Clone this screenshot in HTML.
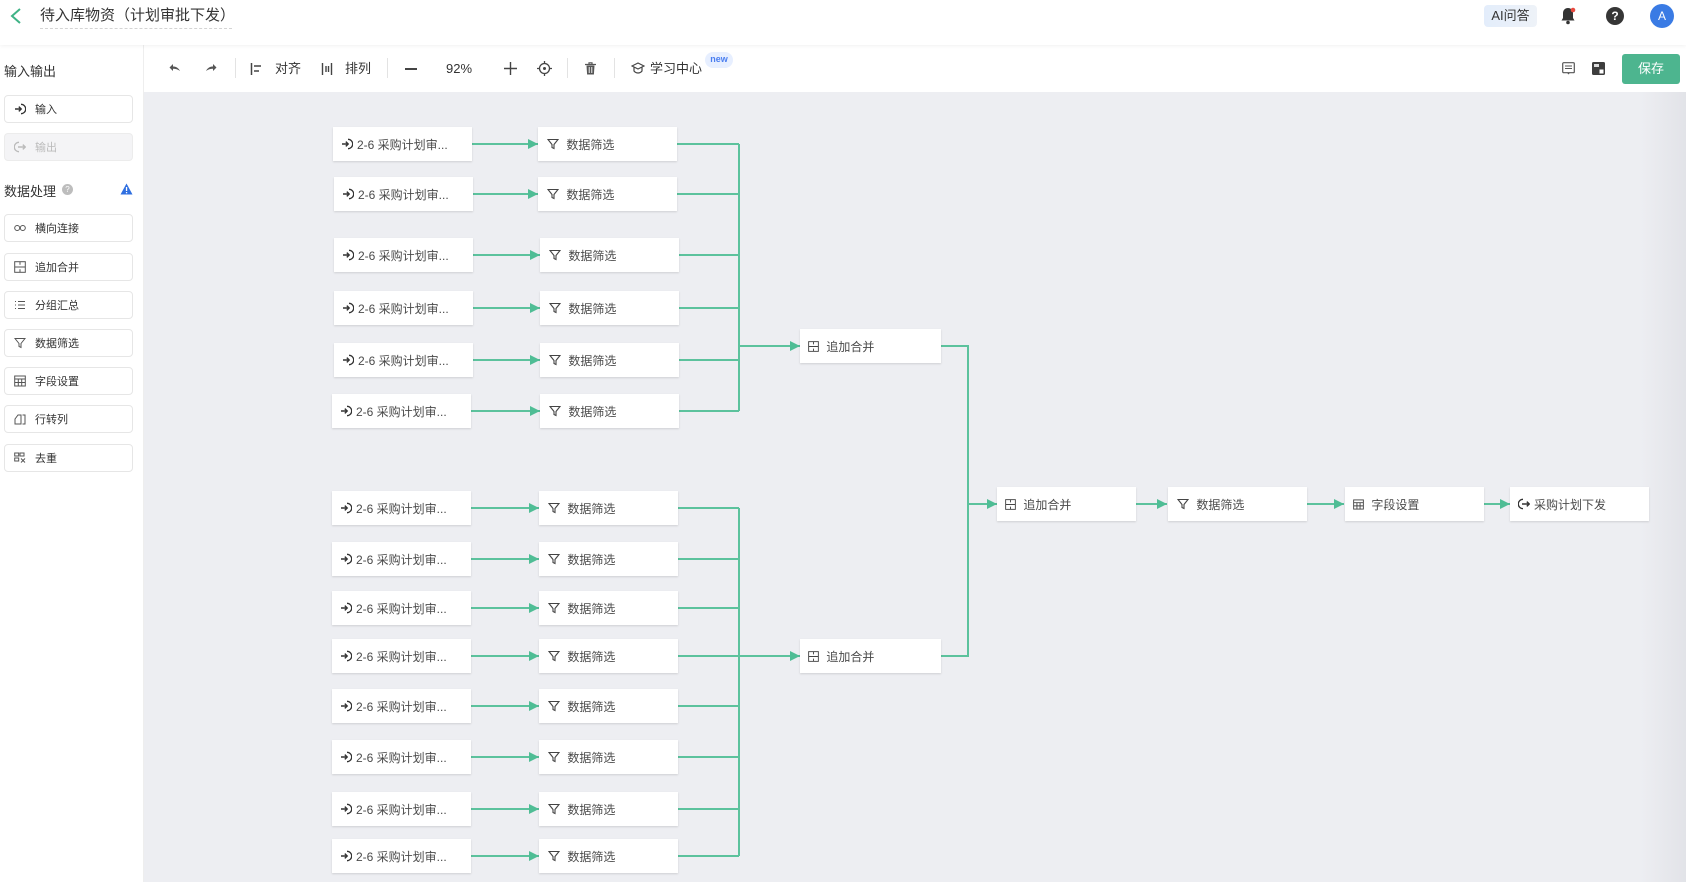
<!DOCTYPE html>
<html><head><meta charset="utf-8">
<style>
*{box-sizing:border-box;margin:0;padding:0}
body{width:1686px;height:882px;overflow:hidden;background:#edeef2;font-family:"Liberation Sans","Noto Sans CJK SC",sans-serif;position:relative;color:#333}
.abs{position:absolute;white-space:nowrap}
#top{left:0;top:0;width:1686px;height:45px;background:#fff;box-shadow:0 1px 4px rgba(0,0,0,.06);z-index:5}
#side{left:0;top:45px;width:144px;height:837px;background:#fff;border-right:1px solid #eee;z-index:4}
#tool{left:144px;top:45px;width:1542px;height:47px;background:#fff;z-index:3}
.si{position:absolute;left:4px;width:129px;height:28px;border:1px solid #e6e6e6;border-radius:4px;font-size:11px;color:#333;display:flex;align-items:center;padding-left:9px;background:#fff;white-space:nowrap}
.si svg{margin-right:9px}
.n{position:absolute;width:139px;height:34px;background:#fff;box-shadow:0 1px 2px rgba(0,0,0,.13);font-size:12px;color:#4a4a4a;display:flex;align-items:center;padding-left:8px;z-index:2;white-space:nowrap}
.n svg{margin-right:4px;flex:none}
.tb{position:absolute;top:60px;font-size:13px;color:#333;line-height:18px;white-space:nowrap}
.dv{position:absolute;top:58px;width:1px;height:20px;background:#e3e3e3}
</style></head><body>

<div id="top" class="abs">
  <svg class="abs" style="left:9px;top:7px" width="14" height="18" viewBox="0 0 14 18"><path d="M11 2 3 9l8 7" stroke="#3fb386" stroke-width="2" fill="none"/></svg>
  <div class="abs" style="left:40px;top:6px;font-size:15px;color:#333;line-height:20px;border-bottom:1px dashed #d4d4d4;padding-bottom:2px;width:192px">待入库物资（计划审批下发）</div>
  <div class="abs" style="left:1484px;top:5px;width:53px;height:22px;border-radius:4px;background:linear-gradient(90deg,#e3edfb,#eef2f8);font-size:13px;line-height:22px;text-align:center;color:#333">AI问答</div>
  <svg class="abs" style="left:1560px;top:7px" width="16" height="18" viewBox="0 0 16 18"><path d="M8 1c-3 0-5 2.2-5 5.2V11L1.5 13.5h13L13 11V6.2C13 3.2 11 1 8 1z" fill="#333"/><circle cx="8" cy="15.5" r="1.8" fill="#333"/><circle cx="13" cy="3" r="2.3" fill="#e84a3f"/></svg>
  <div class="abs" style="left:1606px;top:7px;width:18px;height:18px;border-radius:50%;background:#363636;color:#fff;font-size:12px;font-weight:bold;text-align:center;line-height:18px">?</div>
  <div class="abs" style="left:1650px;top:4px;width:24px;height:24px;border-radius:50%;background:#3a7be4;color:#fff;font-size:12px;text-align:center;line-height:24px">A</div>
</div>

<div id="side" class="abs">
  <div class="abs" style="left:4px;top:16px;font-size:13px;color:#333">输入输出</div>
  <div class="si" style="top:50px"><svg width="12" height="12" viewBox="0 0 12 12"><path d="M1 6h6M4.8 3.6 7.2 6 4.8 8.4" stroke="#333" stroke-width="1.4" fill="none"/><path d="M7 1.3a4.7 4.7 0 0 1 0 9.4" stroke="#333" stroke-width="1.3" fill="none"/></svg>输入</div>
  <div class="si" style="top:88px;background:#f4f4f6;color:#bbb;border-color:#ececec"><svg width="12" height="12" viewBox="0 0 12 12"><path d="M5 1.3a4.7 4.7 0 0 0 0 9.4" stroke="#bbb" stroke-width="1.3" fill="none"/><path d="M4 6h7M8.8 3.6 11.2 6 8.8 8.4" stroke="#bbb" stroke-width="1.4" fill="none"/></svg>输出</div>
  <div class="abs" style="left:4px;top:136px;font-size:13px;color:#333">数据处理</div>
  <div class="abs" style="left:62px;top:139px;width:11px;height:11px;border-radius:50%;background:#bdbdbd;color:#fff;font-size:8px;text-align:center;line-height:11px">?</div>
  <svg class="abs" style="left:120px;top:138px" width="13" height="12" viewBox="0 0 13 12"><path d="M6.5 .5 12.5 11.5H.5z" fill="#2f6fe0"/><rect x="5.9" y="4" width="1.3" height="4" fill="#fff"/><rect x="5.9" y="9" width="1.3" height="1.3" fill="#fff"/></svg>
  <div class="si" style="top:169px"><svg width="12" height="10" viewBox="0 0 12 10"><rect x=".7" y="2.5" width="5" height="5" rx="2.5" stroke="#555" fill="none"/><rect x="6.3" y="2.5" width="5" height="5" rx="2.5" stroke="#555" fill="none"/></svg>横向连接</div>
  <div class="si" style="top:208px"><svg width="12" height="12" viewBox="0 0 12 12"><rect x=".7" y=".7" width="10.6" height="10.6" stroke="#555" fill="none"/><path d="M.7 6h10.6M6 .7v3M6 8.3v3" stroke="#555"/></svg>追加合并</div>
  <div class="si" style="top:246px"><svg width="12" height="10" viewBox="0 0 12 10"><path d="M1 1.5h1M4 1.5h7M1 5h1M4 5h7M1 8.5h1M4 8.5h7" stroke="#555"/></svg>分组汇总</div>
  <div class="si" style="top:284px"><svg width="12" height="12" viewBox="0 0 12 12"><path d="M1 1.5h10L7 6.5v4l-2-1v-3z" stroke="#555" fill="none"/></svg>数据筛选</div>
  <div class="si" style="top:322px"><svg width="12" height="12" viewBox="0 0 12 12"><rect x=".7" y="1" width="10.6" height="10" stroke="#555" fill="none"/><path d="M.7 4h10.6M.7 7.5h10.6M4.3 4v7M7.7 4v7" stroke="#555"/></svg>字段设置</div>
  <div class="si" style="top:360px"><svg width="12" height="12" viewBox="0 0 12 12"><path d="M1 11V6l3-4h3v9zM8.5 2h2.5v9H8.5" stroke="#555" fill="none"/></svg>行转列</div>
  <div class="si" style="top:399px"><svg width="12" height="12" viewBox="0 0 12 12"><rect x=".7" y="1" width="4" height="3" stroke="#555" fill="none"/><rect x="6" y="1" width="4" height="3" stroke="#555" fill="none"/><rect x=".7" y="6" width="4" height="3" stroke="#555" fill="none"/><path d="M7 6.5l4 4M11 6.5l-4 4" stroke="#555"/></svg>去重</div>
</div>

<div id="tool" class="abs"></div>
<div class="abs" style="left:0;top:0;width:1686px;height:92px;z-index:6">
  <svg class="abs" style="left:169px;top:63px" width="12" height="10" viewBox="0 0 12 10"><path d="M11 8C9 4 6 3.5 4 3.5V1L.5 4.5 4 8V5.8c2.5 0 5 .7 7 2.2z" fill="#555"/></svg>
  <svg class="abs" style="left:205px;top:63px" width="12" height="10" viewBox="0 0 12 10"><path d="M1 8C3 4 6 3.5 8 3.5V1l3.5 3.5L8 8V5.8c-2.5 0-5 .7-7 2.2z" fill="#555"/></svg>
  <div class="dv" style="left:235px"></div>
  <svg class="abs" style="left:250px;top:63px" width="12" height="12" viewBox="0 0 12 12"><path d="M1.5 0v12M4 3h7M4 8h5" stroke="#444" stroke-width="1.5"/></svg>
  <div class="tb" style="left:275px">对齐</div>
  <svg class="abs" style="left:321px;top:63px" width="12" height="12" viewBox="0 0 12 12"><path d="M1.5 0v12M10.5 0v12M5 3v6M7.5 3v6" stroke="#444" stroke-width="1.4"/></svg>
  <div class="tb" style="left:345px">排列</div>
  <div class="dv" style="left:387px"></div>
  <div class="abs" style="left:405px;top:68px;width:12px;height:1.5px;background:#444"></div>
  <div class="tb" style="left:446px">92%</div>
  <svg class="abs" style="left:504px;top:62px" width="13" height="13" viewBox="0 0 13 13"><path d="M6.5 0v13M0 6.5h13" stroke="#444" stroke-width="1.4"/></svg>
  <svg class="abs" style="left:537px;top:61px" width="15" height="15" viewBox="0 0 15 15"><circle cx="7.5" cy="7.5" r="5" stroke="#444" stroke-width="1.3" fill="none"/><circle cx="7.5" cy="7.5" r="1.5" fill="#444"/><path d="M7.5 0v2.5M7.5 12.5V15M0 7.5h2.5M12.5 7.5H15" stroke="#444" stroke-width="1.3"/></svg>
  <div class="dv" style="left:567px"></div>
  <svg class="abs" style="left:585px;top:62px" width="11" height="13" viewBox="0 0 11 13"><path d="M0 2.5h11M4 2.5V.8h3v1.7" stroke="#555" stroke-width="1.2" fill="none"/><path d="M1.5 3.5h8l-.6 9h-6.8z" fill="#555"/><path d="M4.2 5v6M6.8 5v6" stroke="#fff" stroke-width=".9"/></svg>
  <div class="dv" style="left:614px"></div>
  <svg class="abs" style="left:631px;top:62px" width="14" height="13" viewBox="0 0 14 13"><path d="M7 1 13 4 7 7 1 4z" stroke="#444" stroke-width="1.2" fill="none"/><path d="M3 5.5v3.5c1 1.3 2.5 2 4 2s3-.7 4-2V5.5" stroke="#444" stroke-width="1.2" fill="none"/></svg>
  <div class="tb" style="left:650px">学习中心</div>
  <div class="abs" style="left:705px;top:52px;width:28px;height:16px;border-radius:8px;background:#e7efff;color:#4a7ef0;font-size:9px;text-align:center;line-height:15px;font-weight:bold">new</div>
  <svg class="abs" style="left:1562px;top:62px" width="13" height="13" viewBox="0 0 13 13"><rect x=".7" y=".7" width="11.6" height="10" rx="1" stroke="#555" fill="none" stroke-width="1.2"/><path d="M3 4h7M3 6.5h7" stroke="#555"/><path d="M5 10.7 6.5 12.5 8 10.7" fill="#555"/></svg>
  <svg class="abs" style="left:1592px;top:62px" width="14" height="14" viewBox="0 0 14 14"><rect x="0" y="0" width="13" height="13" rx="1.5" fill="#3d3d3d"/><rect x="2" y="2" width="5" height="3" fill="#ddd"/><rect x="7" y="7" width="5" height="5" fill="#fff" stroke="#3d3d3d"/></svg>
  <div class="abs" style="left:1622px;top:54px;width:58px;height:30px;border-radius:3px;background:#4db58f;color:#fff;font-size:13px;text-align:center;line-height:30px">保存</div>
</div>

<div class="abs" style="left:1640px;top:92px;width:46px;height:790px;background:linear-gradient(90deg,rgba(225,226,231,0),#e2e3e8)"></div>

<svg class="abs" style="left:0;top:0;z-index:1" width="1686" height="882" viewBox="0 0 1686 882">
<defs><marker id="a" markerWidth="10" markerHeight="10" refX="10" refY="5" orient="auto" markerUnits="userSpaceOnUse"><path d="M0 0 10 5 0 10z" fill="#4fbd95"/></marker></defs>
<g stroke="#5cc29d" stroke-width="2" fill="none">
<path d="M472 144H538" marker-end="url(#a)"/>
<path d="M473 194H538" marker-end="url(#a)"/>
<path d="M473 255H540" marker-end="url(#a)"/>
<path d="M473 308H540" marker-end="url(#a)"/>
<path d="M473 360H540" marker-end="url(#a)"/>
<path d="M471 411H540" marker-end="url(#a)"/>
<path d="M471 508H539" marker-end="url(#a)"/>
<path d="M471 559H539" marker-end="url(#a)"/>
<path d="M471 608H539" marker-end="url(#a)"/>
<path d="M471 656H539" marker-end="url(#a)"/>
<path d="M471 706H539" marker-end="url(#a)"/>
<path d="M471 757H539" marker-end="url(#a)"/>
<path d="M471 809H539" marker-end="url(#a)"/>
<path d="M471 856H539" marker-end="url(#a)"/>
<path d="M677 144H739M677 194H739M679 255H739M679 308H739M679 360H739M679 411H739M739 144V411"/>
<path d="M739 346H800" marker-end="url(#a)"/>
<path d="M678 508H739M678 559H739M678 608H739M678 656H739M678 706H739M678 757H739M678 809H739M678 856H739M739 508V856"/>
<path d="M739 656H800" marker-end="url(#a)"/>
<path d="M941 346H968V656H941"/>
<path d="M968 504H997" marker-end="url(#a)"/>
<path d="M1136 504H1167" marker-end="url(#a)"/>
<path d="M1307 504H1344" marker-end="url(#a)"/>
<path d="M1484 504H1510" marker-end="url(#a)"/>
</g>
</svg>

<!-- input nodes -->
<div class="n" style="left:333px;top:127px"><svg width="12" height="12" viewBox="0 0 12 12"><path d="M1 6h6M4.8 3.6 7.2 6 4.8 8.4" stroke="#333" stroke-width="1.4" fill="none"/><path d="M7 1.3a4.7 4.7 0 0 1 0 9.4" stroke="#333" stroke-width="1.3" fill="none"/></svg>2-6 采购计划审...</div>
<div class="n" style="left:334px;top:177px"><svg width="12" height="12" viewBox="0 0 12 12"><path d="M1 6h6M4.8 3.6 7.2 6 4.8 8.4" stroke="#333" stroke-width="1.4" fill="none"/><path d="M7 1.3a4.7 4.7 0 0 1 0 9.4" stroke="#333" stroke-width="1.3" fill="none"/></svg>2-6 采购计划审...</div>
<div class="n" style="left:334px;top:238px"><svg width="12" height="12" viewBox="0 0 12 12"><path d="M1 6h6M4.8 3.6 7.2 6 4.8 8.4" stroke="#333" stroke-width="1.4" fill="none"/><path d="M7 1.3a4.7 4.7 0 0 1 0 9.4" stroke="#333" stroke-width="1.3" fill="none"/></svg>2-6 采购计划审...</div>
<div class="n" style="left:334px;top:291px"><svg width="12" height="12" viewBox="0 0 12 12"><path d="M1 6h6M4.8 3.6 7.2 6 4.8 8.4" stroke="#333" stroke-width="1.4" fill="none"/><path d="M7 1.3a4.7 4.7 0 0 1 0 9.4" stroke="#333" stroke-width="1.3" fill="none"/></svg>2-6 采购计划审...</div>
<div class="n" style="left:334px;top:343px"><svg width="12" height="12" viewBox="0 0 12 12"><path d="M1 6h6M4.8 3.6 7.2 6 4.8 8.4" stroke="#333" stroke-width="1.4" fill="none"/><path d="M7 1.3a4.7 4.7 0 0 1 0 9.4" stroke="#333" stroke-width="1.3" fill="none"/></svg>2-6 采购计划审...</div>
<div class="n" style="left:332px;top:394px"><svg width="12" height="12" viewBox="0 0 12 12"><path d="M1 6h6M4.8 3.6 7.2 6 4.8 8.4" stroke="#333" stroke-width="1.4" fill="none"/><path d="M7 1.3a4.7 4.7 0 0 1 0 9.4" stroke="#333" stroke-width="1.3" fill="none"/></svg>2-6 采购计划审...</div>
<div class="n" style="left:332px;top:491px"><svg width="12" height="12" viewBox="0 0 12 12"><path d="M1 6h6M4.8 3.6 7.2 6 4.8 8.4" stroke="#333" stroke-width="1.4" fill="none"/><path d="M7 1.3a4.7 4.7 0 0 1 0 9.4" stroke="#333" stroke-width="1.3" fill="none"/></svg>2-6 采购计划审...</div>
<div class="n" style="left:332px;top:542px"><svg width="12" height="12" viewBox="0 0 12 12"><path d="M1 6h6M4.8 3.6 7.2 6 4.8 8.4" stroke="#333" stroke-width="1.4" fill="none"/><path d="M7 1.3a4.7 4.7 0 0 1 0 9.4" stroke="#333" stroke-width="1.3" fill="none"/></svg>2-6 采购计划审...</div>
<div class="n" style="left:332px;top:591px"><svg width="12" height="12" viewBox="0 0 12 12"><path d="M1 6h6M4.8 3.6 7.2 6 4.8 8.4" stroke="#333" stroke-width="1.4" fill="none"/><path d="M7 1.3a4.7 4.7 0 0 1 0 9.4" stroke="#333" stroke-width="1.3" fill="none"/></svg>2-6 采购计划审...</div>
<div class="n" style="left:332px;top:639px"><svg width="12" height="12" viewBox="0 0 12 12"><path d="M1 6h6M4.8 3.6 7.2 6 4.8 8.4" stroke="#333" stroke-width="1.4" fill="none"/><path d="M7 1.3a4.7 4.7 0 0 1 0 9.4" stroke="#333" stroke-width="1.3" fill="none"/></svg>2-6 采购计划审...</div>
<div class="n" style="left:332px;top:689px"><svg width="12" height="12" viewBox="0 0 12 12"><path d="M1 6h6M4.8 3.6 7.2 6 4.8 8.4" stroke="#333" stroke-width="1.4" fill="none"/><path d="M7 1.3a4.7 4.7 0 0 1 0 9.4" stroke="#333" stroke-width="1.3" fill="none"/></svg>2-6 采购计划审...</div>
<div class="n" style="left:332px;top:740px"><svg width="12" height="12" viewBox="0 0 12 12"><path d="M1 6h6M4.8 3.6 7.2 6 4.8 8.4" stroke="#333" stroke-width="1.4" fill="none"/><path d="M7 1.3a4.7 4.7 0 0 1 0 9.4" stroke="#333" stroke-width="1.3" fill="none"/></svg>2-6 采购计划审...</div>
<div class="n" style="left:332px;top:792px"><svg width="12" height="12" viewBox="0 0 12 12"><path d="M1 6h6M4.8 3.6 7.2 6 4.8 8.4" stroke="#333" stroke-width="1.4" fill="none"/><path d="M7 1.3a4.7 4.7 0 0 1 0 9.4" stroke="#333" stroke-width="1.3" fill="none"/></svg>2-6 采购计划审...</div>
<div class="n" style="left:332px;top:839px"><svg width="12" height="12" viewBox="0 0 12 12"><path d="M1 6h6M4.8 3.6 7.2 6 4.8 8.4" stroke="#333" stroke-width="1.4" fill="none"/><path d="M7 1.3a4.7 4.7 0 0 1 0 9.4" stroke="#333" stroke-width="1.3" fill="none"/></svg>2-6 采购计划审...</div>

<!-- filter nodes -->
<div class="n" style="left:538px;top:127px;padding-left:9px"><svg width="12" height="12" viewBox="0 0 12 12"><path d="M1 1.5h10L7 6.5v4l-2-1v-3z" stroke="#444" fill="none" stroke-width="1.1"/></svg>&nbsp;数据筛选</div>
<div class="n" style="left:538px;top:177px;padding-left:9px"><svg width="12" height="12" viewBox="0 0 12 12"><path d="M1 1.5h10L7 6.5v4l-2-1v-3z" stroke="#444" fill="none" stroke-width="1.1"/></svg>&nbsp;数据筛选</div>
<div class="n" style="left:540px;top:238px;padding-left:9px"><svg width="12" height="12" viewBox="0 0 12 12"><path d="M1 1.5h10L7 6.5v4l-2-1v-3z" stroke="#444" fill="none" stroke-width="1.1"/></svg>&nbsp;数据筛选</div>
<div class="n" style="left:540px;top:291px;padding-left:9px"><svg width="12" height="12" viewBox="0 0 12 12"><path d="M1 1.5h10L7 6.5v4l-2-1v-3z" stroke="#444" fill="none" stroke-width="1.1"/></svg>&nbsp;数据筛选</div>
<div class="n" style="left:540px;top:343px;padding-left:9px"><svg width="12" height="12" viewBox="0 0 12 12"><path d="M1 1.5h10L7 6.5v4l-2-1v-3z" stroke="#444" fill="none" stroke-width="1.1"/></svg>&nbsp;数据筛选</div>
<div class="n" style="left:540px;top:394px;padding-left:9px"><svg width="12" height="12" viewBox="0 0 12 12"><path d="M1 1.5h10L7 6.5v4l-2-1v-3z" stroke="#444" fill="none" stroke-width="1.1"/></svg>&nbsp;数据筛选</div>
<div class="n" style="left:539px;top:491px;padding-left:9px"><svg width="12" height="12" viewBox="0 0 12 12"><path d="M1 1.5h10L7 6.5v4l-2-1v-3z" stroke="#444" fill="none" stroke-width="1.1"/></svg>&nbsp;数据筛选</div>
<div class="n" style="left:539px;top:542px;padding-left:9px"><svg width="12" height="12" viewBox="0 0 12 12"><path d="M1 1.5h10L7 6.5v4l-2-1v-3z" stroke="#444" fill="none" stroke-width="1.1"/></svg>&nbsp;数据筛选</div>
<div class="n" style="left:539px;top:591px;padding-left:9px"><svg width="12" height="12" viewBox="0 0 12 12"><path d="M1 1.5h10L7 6.5v4l-2-1v-3z" stroke="#444" fill="none" stroke-width="1.1"/></svg>&nbsp;数据筛选</div>
<div class="n" style="left:539px;top:639px;padding-left:9px"><svg width="12" height="12" viewBox="0 0 12 12"><path d="M1 1.5h10L7 6.5v4l-2-1v-3z" stroke="#444" fill="none" stroke-width="1.1"/></svg>&nbsp;数据筛选</div>
<div class="n" style="left:539px;top:689px;padding-left:9px"><svg width="12" height="12" viewBox="0 0 12 12"><path d="M1 1.5h10L7 6.5v4l-2-1v-3z" stroke="#444" fill="none" stroke-width="1.1"/></svg>&nbsp;数据筛选</div>
<div class="n" style="left:539px;top:740px;padding-left:9px"><svg width="12" height="12" viewBox="0 0 12 12"><path d="M1 1.5h10L7 6.5v4l-2-1v-3z" stroke="#444" fill="none" stroke-width="1.1"/></svg>&nbsp;数据筛选</div>
<div class="n" style="left:539px;top:792px;padding-left:9px"><svg width="12" height="12" viewBox="0 0 12 12"><path d="M1 1.5h10L7 6.5v4l-2-1v-3z" stroke="#444" fill="none" stroke-width="1.1"/></svg>&nbsp;数据筛选</div>
<div class="n" style="left:539px;top:839px;padding-left:9px"><svg width="12" height="12" viewBox="0 0 12 12"><path d="M1 1.5h10L7 6.5v4l-2-1v-3z" stroke="#444" fill="none" stroke-width="1.1"/></svg>&nbsp;数据筛选</div>

<!-- merge nodes -->
<div class="n" style="left:800px;top:329px;width:141px"><svg width="11" height="11" viewBox="0 0 12 12"><rect x=".7" y=".7" width="10.6" height="10.6" stroke="#444" fill="none"/><path d="M.7 6h10.6M6 .7v3M6 8.3v3" stroke="#444"/></svg>&nbsp;追加合并</div>
<div class="n" style="left:800px;top:639px;width:141px"><svg width="11" height="11" viewBox="0 0 12 12"><rect x=".7" y=".7" width="10.6" height="10.6" stroke="#444" fill="none"/><path d="M.7 6h10.6M6 .7v3M6 8.3v3" stroke="#444"/></svg>&nbsp;追加合并</div>

<!-- final row -->
<div class="n" style="left:997px;top:487px"><svg width="11" height="11" viewBox="0 0 12 12"><rect x=".7" y=".7" width="10.6" height="10.6" stroke="#444" fill="none"/><path d="M.7 6h10.6M6 .7v3M6 8.3v3" stroke="#444"/></svg>&nbsp;追加合并</div>
<div class="n" style="left:1168px;top:487px;padding-left:9px"><svg width="12" height="12" viewBox="0 0 12 12"><path d="M1 1.5h10L7 6.5v4l-2-1v-3z" stroke="#444" fill="none" stroke-width="1.1"/></svg>&nbsp;数据筛选</div>
<div class="n" style="left:1345px;top:487px"><svg width="11" height="11" viewBox="0 0 12 12"><rect x=".7" y="1" width="10.6" height="10" stroke="#444" fill="none"/><path d="M.7 4h10.6M.7 7.5h10.6M4.3 4v7M7.7 4v7" stroke="#444"/></svg>&nbsp;字段设置</div>
<div class="n" style="left:1510px;top:487px"><svg width="12" height="12" viewBox="0 0 12 12"><path d="M5 1.3a4.7 4.7 0 0 0 0 9.4" stroke="#333" stroke-width="1.3" fill="none"/><path d="M4 6h7M8.8 3.6 11.2 6 8.8 8.4" stroke="#333" stroke-width="1.4" fill="none"/></svg>采购计划下发</div>

</body></html>
